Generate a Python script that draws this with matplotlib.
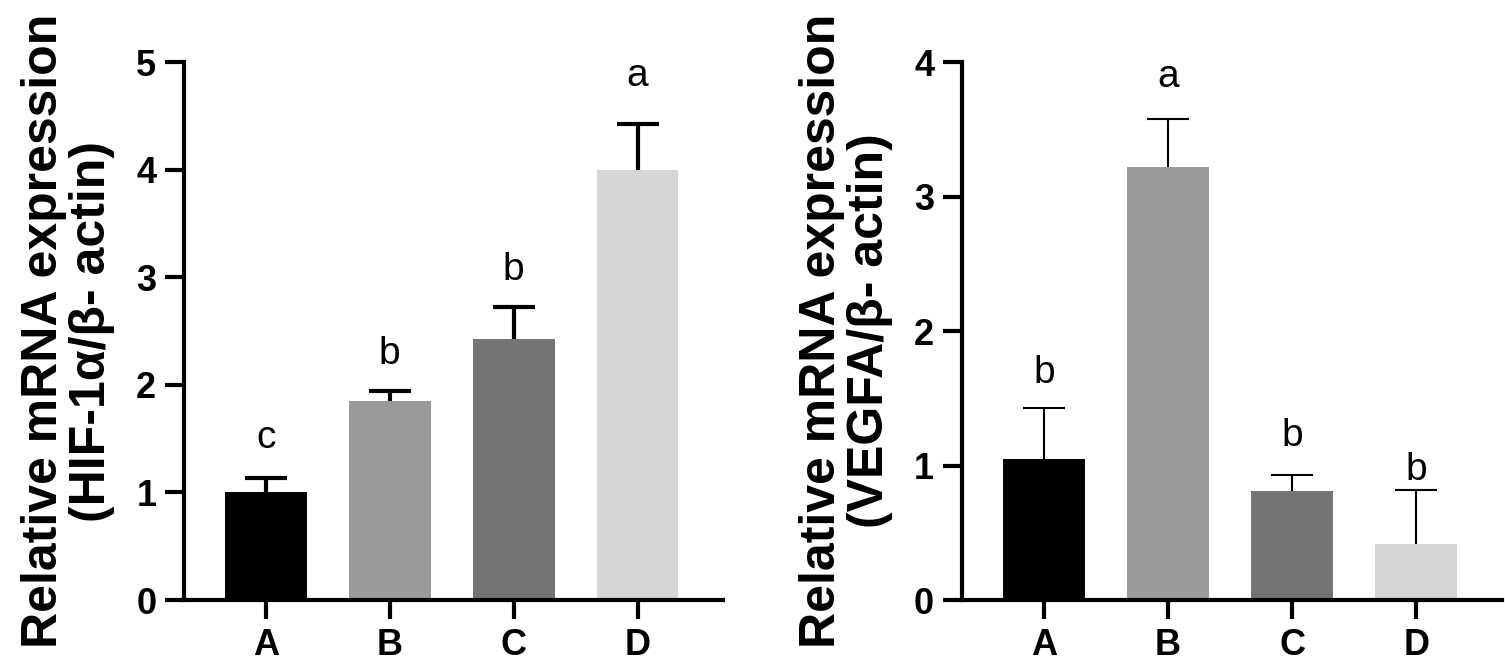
import numpy as np
import matplotlib
matplotlib.use('Agg')
import matplotlib.pyplot as plt
from matplotlib import font_manager

# data
groups = ['A', 'B', 'C', 'D']
hif_mean = [1.00, 1.85, 2.43, 4.00]
hif_sd = [0.13, 0.09, 0.29, 0.42]
hif_letters = ['c', 'b', 'b', 'a']
vegfa_mean = [1.05, 3.22, 0.81, 0.42]
vegfa_sd = [0.38, 0.36, 0.12, 0.40]
vegfa_letters = ['b', 'a', 'b', 'b']

bar_colors = ['#000000', '#9a9a9a', '#747474', '#d6d6d6']

names = {f.name for f in font_manager.fontManager.ttflist}
narrow = 'Liberation Sans Narrow' if 'Liberation Sans Narrow' in names else 'Liberation Sans'
plt.rcParams['font.family'] = ['Liberation Sans', 'DejaVu Sans']

fig = plt.figure(figsize=(15.05, 6.69), dpi=100)
ax1 = fig.add_axes([0.1223, 0.1031, 0.3581, 0.8042])
ax2 = fig.add_axes([0.6392, 0.1031, 0.3588, 0.8042])


def draw(ax, mean, sd, letters, ymax, ylabel, err_lw, offs, tickfont):
    x = np.arange(len(groups))
    # symmetric error bar drawn under the bar, so only the upper half shows
    ax.errorbar(x, mean, yerr=sd, fmt='none', ecolor='black',
                elinewidth=err_lw, capsize=15, capthick=err_lw, zorder=1)
    ax.bar(x, mean, width=0.66, color=bar_colors, zorder=2)
    for i in range(len(x)):
        ax.annotate(letters[i], (x[i], mean[i] + sd[i]), xytext=(0, offs[i]),
                    textcoords='offset points', ha='center', va='baseline', fontsize=28)
    ax.set_xlim(-0.66, 3.69)
    ax.set_ylim(0, ymax)
    ax.set_yticks(range(ymax + 1))
    ax.set_xticks(x)
    ax.set_xticklabels(groups, fontsize=26, fontweight='bold')
    for lab in ax.get_yticklabels():
        lab.set_fontsize(26)
        lab.set_fontweight('bold')
        lab.set_family([tickfont, 'DejaVu Sans'])
    for s in ['top', 'right']:
        ax.spines[s].set_visible(False)
    for s in ['left', 'bottom']:
        ax.spines[s].set_linewidth(3)
        ax.spines[s].set_zorder(4)
    ax.tick_params(axis='both', width=3, length=14, pad=6)
    ax.set_ylabel(ylabel, fontsize=36, fontweight='bold', linespacing=1.05)
    ax.yaxis.set_label_coords(-0.128, 0.5)


draw(ax1, hif_mean, hif_sd, hif_letters, 5,
     'Relative mRNA expression\n(HIF-1\u03b1/\u03b2- actin)', 3, [22, 20, 20, 28], 'Liberation Sans')
draw(ax2, vegfa_mean, vegfa_sd, vegfa_letters, 4,
     'Relative mRNA expression\n(VEGFA/\u03b2- actin)', 1.5, [18, 23, 21, 7], narrow)

plt.savefig('out.png', dpi=100)
